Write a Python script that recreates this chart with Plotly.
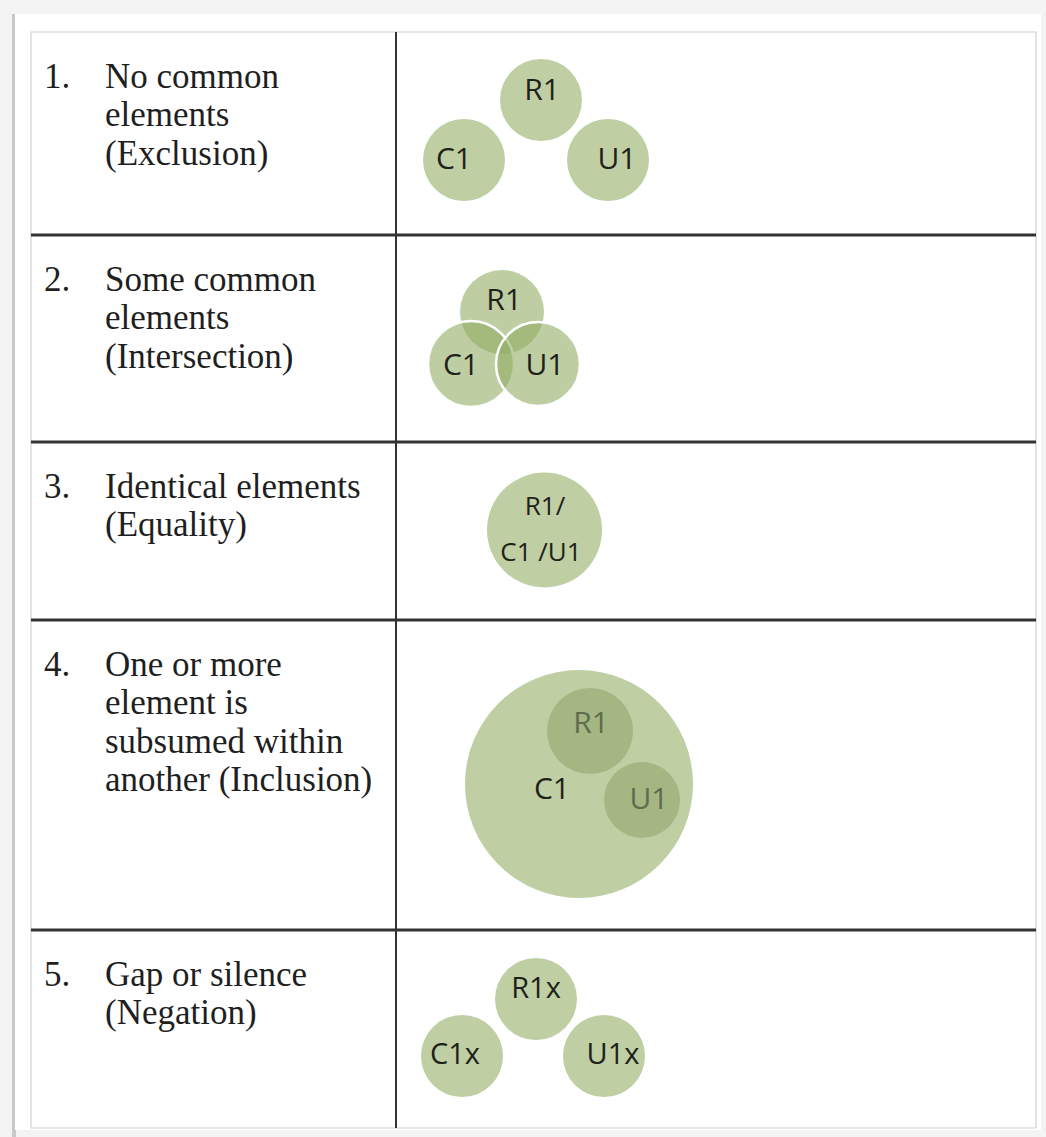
import plotly.graph_objects as go

# ---------------- data ----------------
row_numbers = ["1.", "2.", "3.", "4.", "5."]
row_texts = [
    ["No common", "elements", "(Exclusion)"],
    ["Some common", "elements", "(Intersection)"],
    ["Identical elements", "(Equality)"],
    ["One or more", "element is", "subsumed within", "another (Inclusion)"],
    ["Gap or silence", "(Negation)"],
]

# circles of each diagram: (label, centre x, centre y, radius) in diagram units
row1_circles = [("R1", 541, 100, 41), ("C1", 464, 160, 41), ("U1", 608, 160, 41)]
row2_circles = [("R1", 502, 312, 42), ("C1", 471, 364, 43), ("U1", 538, 364, 42)]
row3_circles = [("R1/C1/U1", 544.5, 530, 57.5)]
row4_circles = [("C1", 579, 784, 114), ("R1", 590, 731, 43), ("U1", 642, 800, 38)]
row5_circles = [("R1x", 536, 999, 41), ("C1x", 462, 1056, 41), ("U1x", 604, 1056, 41)]

# circle labels: (text, x, y)
row1_labels = [("R1", 542, 92), ("C1", 454, 161), ("U1", 617, 161)]
row2_labels = [("R1", 504, 302), ("C1", 461, 367), ("U1", 545, 367)]
row3_labels = [("R1/", 545, 508), ("C1 /U1", 541, 554)]
row4_labels_dark = [("C1", 552, 791)]
row4_labels_light = [("R1", 591, 725), ("U1", 649, 801)]
row5_labels = [("R1x", 536, 991), ("C1x", 455, 1057), ("U1x", 613, 1057)]

# ---------------- layout geometry ----------------
W, H = 1046, 1137
row_tops = [32, 235, 442, 620, 930]
table_left, table_right, table_bottom = 31, 1036, 1128
col_div = 396
num_x, text_x = 42, 103
serif_size = 35
line_gap = 38.5
first_base = 56

LIGHT = "#bfcea3"
DARK_IN = "#a4b682"
TXT = "#1f1f1f"
LBL = "#1e2219"

shapes = []
# page background / shadow
shapes.append(dict(type="rect", x0=12, x1=16, y0=14, y1=H, fillcolor="#c8c8c8", line_width=0, layer="below"))
shapes.append(dict(type="rect", x0=15, x1=1041, y0=14, y1=1130, fillcolor="white", line_width=0, layer="below"))
# table outer thin border
shapes.append(dict(type="rect", x0=table_left, x1=table_right, y0=row_tops[0], y1=table_bottom,
                   line=dict(color="#d2d2d2", width=1.2), fillcolor="rgba(0,0,0,0)", layer="below"))
# row dividers
for yt in row_tops[1:]:
    shapes.append(dict(type="line", x0=table_left, x1=table_right, y0=yt, y1=yt,
                       line=dict(color="#333333", width=3), layer="below"))
# column divider
shapes.append(dict(type="line", x0=col_div, x1=col_div, y0=row_tops[0], y1=table_bottom,
                   line=dict(color="#333333", width=2), layer="below"))


def circ(cx, cy, r, fill, line_color=None, lw=0):
    return dict(type="circle", xref="x", yref="y", x0=cx - r, x1=cx + r, y0=cy - r, y1=cy + r,
                fillcolor=fill, layer="below",
                line=dict(width=lw, color=line_color or "rgba(0,0,0,0)"))


for _, cx, cy, r in row1_circles:
    shapes.append(circ(cx, cy, r, LIGHT))
for i, (_, cx, cy, r) in enumerate(row2_circles):
    shapes.append(circ(cx, cy, r, "rgba(147,173,100,0.6)", "white", 0 if i == 0 else 2.5))
for _, cx, cy, r in row3_circles:
    shapes.append(circ(cx, cy, r, LIGHT))
for i, (_, cx, cy, r) in enumerate(row4_circles):
    shapes.append(circ(cx, cy, r, LIGHT if i == 0 else DARK_IN))
for _, cx, cy, r in row5_circles:
    shapes.append(circ(cx, cy, r, LIGHT))

fig = go.Figure()

label_font = "Open Sans"


def add_labels(labels, size, color):
    fig.add_trace(go.Scatter(
        x=[l[1] for l in labels], y=[l[2] for l in labels], text=[l[0] for l in labels],
        mode="text", textposition="middle center",
        textfont=dict(family=label_font, size=size, color=color),
        hoverinfo="skip", showlegend=False))


add_labels(row1_labels, 30, LBL)
add_labels(row2_labels, 30, LBL)
add_labels(row3_labels, 26, LBL)
add_labels(row4_labels_dark, 30, LBL)
add_labels(row4_labels_light, 30, "#5f6c4d")
add_labels(row5_labels, 29, LBL)

annotations = []
for top, num, lines in zip(row_tops, row_numbers, row_texts):
    for i, line in enumerate(lines):
        base = top + first_base + i * line_gap
        yc = base - 0.34 * serif_size
        annotations.append(dict(x=text_x, y=yc, xref="x", yref="y", text=line, showarrow=False,
                                xanchor="left", yanchor="middle",
                                font=dict(family="Liberation Serif", size=serif_size, color=TXT)))
    base = top + first_base
    annotations.append(dict(x=num_x, y=base - 0.34 * serif_size, xref="x", yref="y", text=num,
                            showarrow=False, xanchor="left", yanchor="middle",
                            font=dict(family="Liberation Serif", size=serif_size, color=TXT)))

fig.update_layout(
    width=W, height=H, margin=dict(l=0, r=0, t=0, b=0),
    paper_bgcolor="#f3f3f3", plot_bgcolor="rgba(0,0,0,0)",
    xaxis=dict(range=[0, W], visible=False, fixedrange=True),
    yaxis=dict(range=[H, 0], visible=False, fixedrange=True),
    shapes=shapes, annotations=annotations,
)

fig.write_html("out.html", config={"displayModeBar": False},
               post_script="document.body.style.margin='0';document.body.style.overflow='hidden';")
